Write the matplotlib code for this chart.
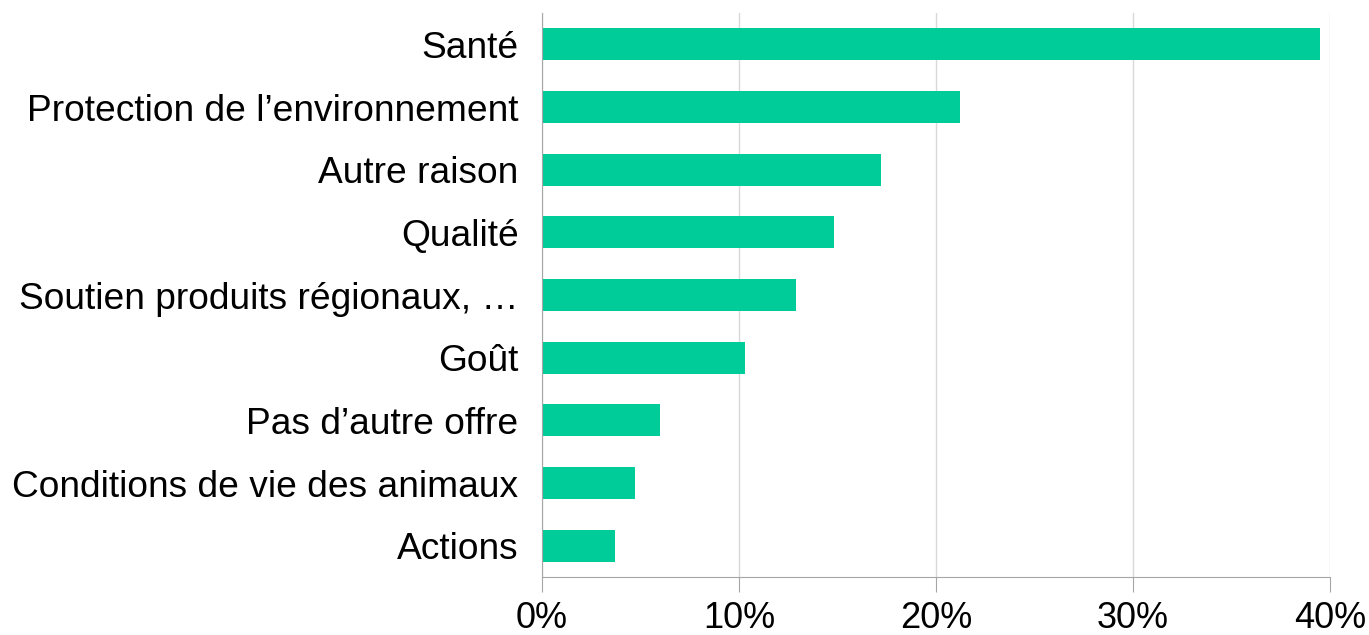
import matplotlib.pyplot as plt
from matplotlib.ticker import PercentFormatter

plt.rcParams['font.family'] = ['Liberation Sans', 'DejaVu Sans']

categories = ['Santé', 'Protection de l’environnement', 'Autre raison', 'Qualité',
              'Soutien produits régionaux, …', 'Goût', 'Pas d’autre offre',
              'Conditions de vie des animaux', 'Actions']
values = [39.5, 21.2, 17.2, 14.8, 12.9, 10.3, 6.0, 4.7, 3.7]
ticks = [0, 10, 20, 30, 40]

fig = plt.figure(figsize=(13.69, 6.35), dpi=100)
ax = fig.add_axes([0.396, 0.0913, 0.5755, 0.8882])

ypos = list(range(len(categories)))
ax.barh(ypos, values, height=0.51, color='#00cc99', zorder=3)
ax.set_yticks(ypos)
ax.set_yticklabels(categories, fontsize=26.7)
ax.set_ylim(len(categories) - 0.5, -0.5)
ax.set_xlim(0, 40)
ax.set_xticks(ticks)
ax.xaxis.set_major_formatter(PercentFormatter(decimals=0))
ax.tick_params(axis='x', labelsize=26, length=11, color='#a6a6a6', pad=6)
ax.tick_params(axis='y', length=0, pad=17)
ax.grid(axis='x', color='#d9d9d9', linewidth=1, zorder=0)

for s in ['top', 'right']:
    ax.spines[s].set_visible(False)
ax.spines['left'].set_color('#a6a6a6')
ax.spines['bottom'].set_color('#a6a6a6')
ax.spines['left'].set_zorder(4)

fig.savefig('out.png', dpi=100)
